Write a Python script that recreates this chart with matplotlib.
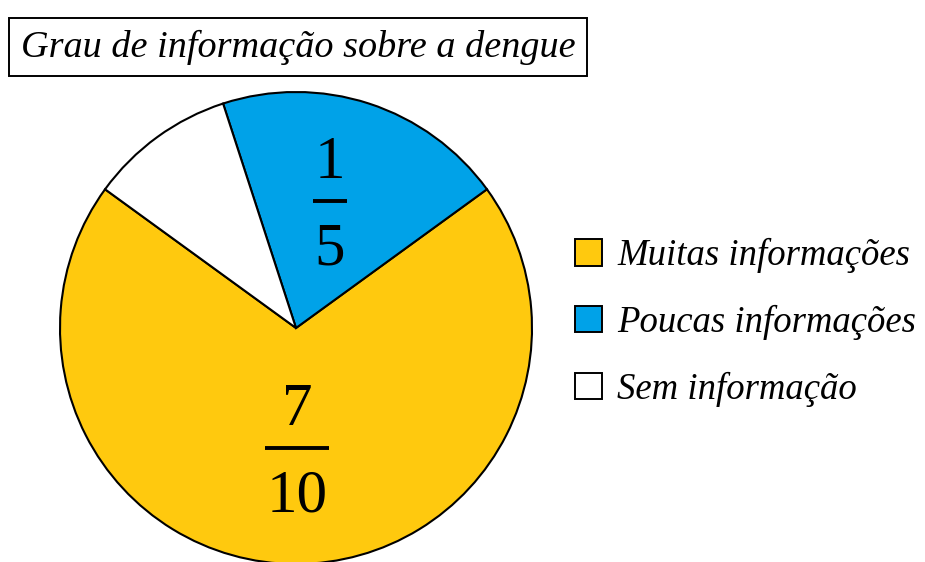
import matplotlib.pyplot as plt

categorias = ["Muitas informações", "Poucas informações", "Sem informação"]
fracoes = [7 / 10, 1 / 5, 1 / 10]
rotulos = [("7", "10"), ("1", "5"), None]
cores = ["#FFC90E", "#00A2E8", "#FFFFFF"]

W, H = 925, 562
fig = plt.figure(figsize=(W / 100, H / 100), dpi=100)
ax = fig.add_axes([0, 0, 1, 1])

# pie in pixel units, y measured upward
cx, cy, r = 296, H - 328, 236
wedges, _ = ax.pie(fracoes, colors=cores, startangle=144, counterclock=True,
                   center=(cx, cy), radius=r,
                   wedgeprops=dict(edgecolor="black", linewidth=1.5))
ax.set_xlim(0, W)
ax.set_ylim(0, H)
ax.set_aspect("equal")
ax.axis("off")

serif = "Liberation Serif"

# fraction labels: numerator, bar, denominator
pos = {0: (297, H - 448, 32), 1: (330, H - 201, 17)}
for i, lab in enumerate(rotulos):
    if lab is None:
        continue
    x, y, half = pos[i]
    num, den = lab
    ax.text(x, y + 10, num, ha="center", va="bottom", fontsize=44,
            family=serif)
    ax.text(x, y - 21, den, ha="center", va="top", fontsize=44,
            family=serif)
    ax.plot([x - half, x + half], [y, y], color="black", lw=2.8,
            solid_capstyle="butt")

# title in a box
ax.text(298, H - 47, "Grau de informação sobre a dengue", ha="center",
        va="center", fontsize=27.5, family=serif, style="italic",
        bbox=dict(boxstyle="square,pad=0.3", fc="white", ec="black", lw=1.4))

leg = ax.legend(wedges, categorias, loc="upper left",
                bbox_to_anchor=(575 / W, 1 - 238 / H), frameon=False,
                prop=dict(family=serif, style="italic", size=26.5),
                handlelength=0.74, handleheight=0.74, handletextpad=0.4,
                labelspacing=0.86, borderpad=0, borderaxespad=0)
for h in leg.legend_handles:
    h.set_edgecolor("black")
    h.set_linewidth(1.4)

fig.savefig("out.png", dpi=100)
